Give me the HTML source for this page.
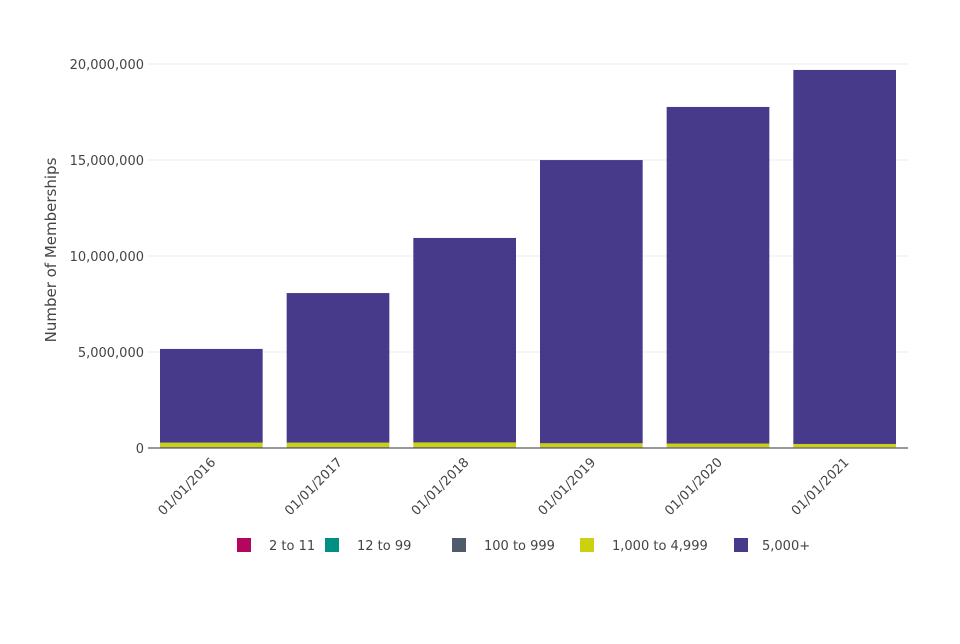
<!DOCTYPE html>
<html><head><meta charset="utf-8"><style>
body{margin:0;background:#fff;font-family:"DejaVu Sans","Liberation Sans",sans-serif;}
svg text{font-family:"DejaVu Sans","Liberation Sans",sans-serif;fill:#444;font-size:13px;}
</style></head><body>
<svg id="chart" width="960" height="640" xmlns="http://www.w3.org/2000/svg"></svg>
<script>
const categories=["01/01/2016","01/01/2017","01/01/2018","01/01/2019","01/01/2020","01/01/2021"];
const s2to11=[10000,10000,10000,10000,8000,8000];
const s12to99=[15000,15000,15000,14000,13000,12000];
const s100to999=[25000,25000,25000,23000,22000,20000];
const s1000to4999=[230000,230000,240000,200000,190000,170000];
const s5000plus=[4880000,7790000,10650000,14750000,17530000,19480000];
const yTicks=[0,5000000,10000000,15000000,20000000];
const yTickLabels=["0","5,000,000","10,000,000","15,000,000","20,000,000"];
const seriesNames=["2 to 11","12 to 99","100 to 999","1,000 to 4,999","5,000+"];
const seriesColors=["#b5065e","#008f82","#4f5b6a","#cbd10e","#473a8a"];
const NS="http://www.w3.org/2000/svg";
const svg=document.getElementById('chart');
const X0=148,X1=908,Y0=448,Y1=64;
const band=(X1-X0)/categories.length;
const y=v=>Y0-(v/20000000)*(Y0-Y1);
const xb=i=>X0+band*i+12;
const bw=band-24;
function mk(t,a){const e=document.createElementNS(NS,t);for(const k in a)e.setAttribute(k,a[k]);svg.appendChild(e);return e;}
yTicks.forEach((v,i)=>{
  if(v>0){const g=mk('line',{x1:X0,x2:X1,y1:y(v),y2:y(v),stroke:'#ececec'});
  
  }
  const t=mk('text',{x:X0-4,y:y(v)+5,'text-anchor':'end'});t.textContent=yTickLabels[i];
  
  
});
const series=[s2to11,s12to99,s100to999,s1000to4999,s5000plus];
categories.forEach((c,i)=>{
  let acc=0;
  series.forEach((s,j)=>{
    const r=mk('rect',{x:xb(i),width:bw,y:y(acc+s[i]),height:y(acc)-y(acc+s[i]),fill:seriesColors[j]});
    
    
    acc+=s[i];
  });
  const cx=xb(i)+bw/2+5;
  const t=mk('text',{x:cx,y:463,'text-anchor':'end',transform:`rotate(-45 ${cx} 463)`});t.textContent=c;
  
  
});
const ax=mk('line',{x1:X0,x2:X1,y1:Y0,y2:Y0,stroke:'#777','stroke-width':1.5});


const yt=mk('text',{x:56,y:250,'text-anchor':'middle',transform:'rotate(-90 56 250)'});
yt.style.fontSize='15px';yt.textContent='Number of Memberships';


const lx=[237,325,452,580,734];
seriesNames.forEach((n,j)=>{
  const r=mk('rect',{x:lx[j],y:538,width:14,height:14,fill:seriesColors[j]});
  
  
  const t=mk('text',{x:lx[j]+(j==4?28:32),y:550});t.textContent=n;
  
  
});
</script>
</body></html>
